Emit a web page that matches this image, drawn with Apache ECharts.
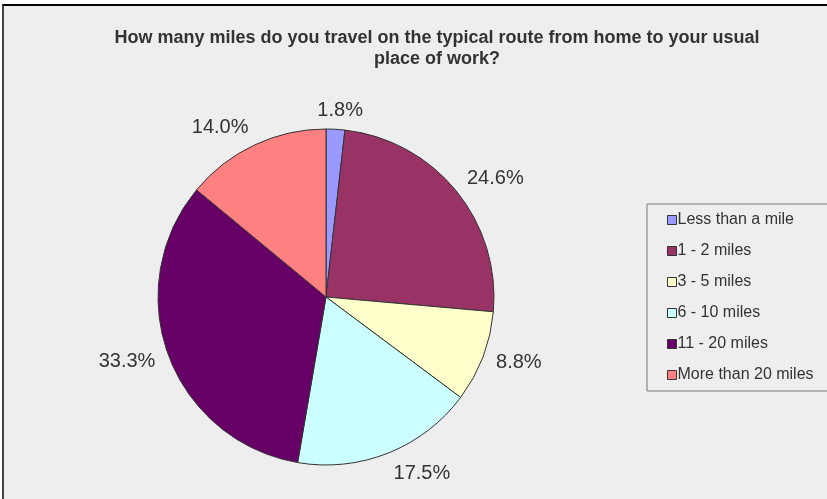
<!DOCTYPE html>
<html><head><meta charset="utf-8">
<script src="https://cdn.jsdelivr.net/npm/echarts@6/dist/echarts.min.js"></script>
<style>html,body{margin:0;padding:0;background:#fff}#c{position:absolute;left:2px;top:4px;width:825px;height:495px;background:#eeeeee;border-top:2px solid #000;border-left:2px solid #444;box-sizing:border-box}</style>
</head><body><div id="c"></div>
<script>
const titleText = 'How many miles do you travel on the typical route from home to your usual\nplace of work?';
const categories = ['Less than a mile', '1 - 2 miles', '3 - 5 miles', '6 - 10 miles', '11 - 20 miles', 'More than 20 miles'];
const values = [1.8, 24.6, 8.8, 17.5, 33.3, 14.0];
const colors = ['#9999FF', '#993366', '#FFFFCC', '#CCFFFF', '#660066', '#FF8080'];

const CX = 322, CY = 291, R = 168, GAP = 14;
const total = values.reduce((a, b) => a + b, 0);
const clamp = v => Math.max(-1, Math.min(1, v));

const chart = echarts.init(document.getElementById('c'), null, {renderer: 'canvas'});
chart.setOption({
  animation: false,
  title: {
    text: titleText, left: 428, top: 17, textAlign: 'center',
    textStyle: {fontFamily: 'Liberation Sans, Arial', fontSize: 18, fontWeight: 'bold', color: '#333', lineHeight: 21}
  },
  legend: {
    orient: 'vertical', left: 643, top: 198,
    padding: [8, 40, 8, 20], itemGap: 15, itemWidth: 9, itemHeight: 9,
    borderColor: '#777', borderWidth: 1, icon: 'rect',
    itemStyle: {borderColor: '#333', borderWidth: 1},
    textStyle: {fontFamily: 'Liberation Sans, Arial', fontSize: 16, color: '#333', padding: [0, 0, 0, -4]},
    data: categories
  },
  series: [{
    type: 'pie', center: [CX, CY], radius: R, startAngle: 90, clockwise: true,
    avoidLabelOverlap: false,
    color: colors,
    itemStyle: {borderColor: '#333', borderWidth: 1},
    label: {show: true, position: 'outside', formatter: p => p.value.toFixed(1) + '%',
      fontFamily: 'Liberation Sans, Arial', fontSize: 20, color: '#333'},
    labelLine: {show: false, length: 10, length2: 0},
    labelLayout: function (p) {
      const i = p.dataIndex;
      let cum = 0;
      for (let k = 0; k < i; k++) cum += values[k];
      const a = (cum + values[i] / 2) / total * 2 * Math.PI;
      const dx = Math.sin(a), dy = -Math.cos(a);
      const w = p.labelRect.width;
      const x = CX + dx * (R + GAP) + clamp(3 * dx) * w / 2;
      const fy = Math.max(0, Math.min(1, 3 * (Math.abs(dy) - 0.4)));
      const y = CY + dy * (R + GAP) + Math.sign(dy) * fy * 6;
      return {x: x, y: y + 1, align: 'center', verticalAlign: 'middle'};
    },
    emphasis: {disabled: true},
    data: categories.map((c, i) => ({name: c, value: values[i]}))
  }]
});
</script></body></html>
